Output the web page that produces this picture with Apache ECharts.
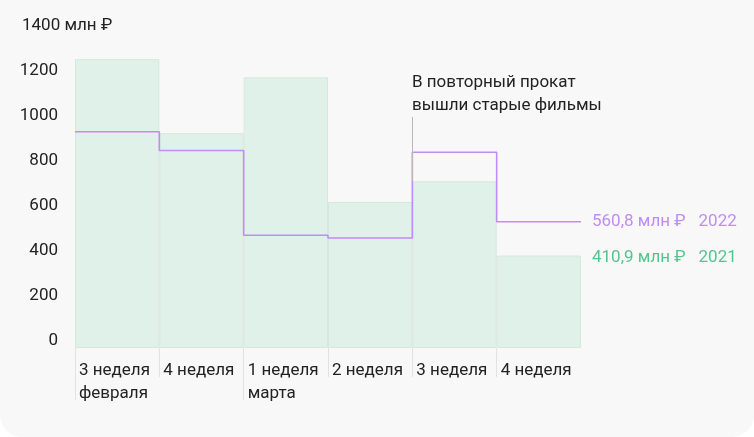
<!DOCTYPE html>
<html>
<head>
<meta charset="utf-8">
<title>Кинопрокат</title>
<script src="https://cdn.jsdelivr.net/npm/echarts@6/dist/echarts.min.js"></script>
<style>
  html, body { margin: 0; padding: 0; background: #ffffff; }
  #chart { width: 754px; height: 437px; background: #f8f8f8; border-radius: 0 0 22px 22px; }
</style>
</head>
<body>
<div id="chart"></div>
<script>
// недели
var weeks = ['3 неделя\nфевраля', '4 неделя', '1 неделя\nмарта', '2 неделя', '3 неделя', '4 неделя'];
// сборы, млн ₽
var y2021 = [1284, 955, 1203, 649, 741, 410.9];
var y2022 = [961, 878, 501, 489, 870, 560.8];
var yTicks = [0, 200, 400, 600, 800, 1000, 1200, 1400];
var noteWeek = 4;
var noteTop = 1027;
var noteText = 'В повторный прокат\nвышли старые фильмы';

var font = 'Roboto, "Noto Sans", sans-serif';
var purple = '#c08cf5';
var green = '#55c48f';

function rub(v) {
  return v.toFixed(1).replace('.', ',') + ' млн ₽';
}

// ступенчатая линия 2022 по границам недель
var stepData = [];
for (var i = 0; i < y2022.length; i++) {
  stepData.push([i, y2022[i]]);
  stepData.push([i + 1, y2022[i]]);
}

var barData = y2021.map(function (v, i) {
  if (i < y2021.length - 1) return v;
  return {
    value: v,
    label: {
      show: true,
      position: ['100%', 0],
      offset: [11, 2],
      align: 'left',
      verticalAlign: 'middle',
      formatter: '{a|' + rub(v) + '}{b|2021}',
      rich: {
        a: { color: green, fontSize: 17, fontFamily: font },
        b: { color: green, fontSize: 17, fontFamily: font, padding: [0, 0, 0, 13] }
      }
    }
  };
});

var chart = echarts.init(document.getElementById('chart'));
chart.setOption({
  animation: false,
  textStyle: { fontFamily: font },
  title: {
    text: yTicks[yTicks.length - 1] + ' млн ₽',
    left: 22, top: 17, padding: 0,
    textStyle: { fontSize: 17, fontWeight: 'normal', color: '#222', fontFamily: font }
  },
  graphic: [{
    type: 'text', left: 412, top: 71,
    style: { text: noteText, fontSize: 17, lineHeight: 23, fill: '#222', fontFamily: font }
  }],
  grid: { left: 75, right: 173, top: 33, bottom: 89 },
  xAxis: [
    { type: 'category', data: weeks, boundaryGap: true, show: false },
    { type: 'value', min: 0, max: weeks.length, show: false },
    {
      type: 'category', data: weeks.concat(['']), boundaryGap: false, position: 'bottom', offset: 0,
      axisLine: { show: false },
      axisTick: { show: true, length: 29, lineStyle: { color: '#e2e2e2' },
        interval: function (i) { return i < weeks.length; } },
      axisLabel: { interval: 0, align: 'left', verticalAlign: 'top', margin: 11,
        padding: [0, 0, 0, 4], fontSize: 17, lineHeight: 23, color: '#222' }
    },
    {
      type: 'category', data: weeks.concat(['']), boundaryGap: false, position: 'bottom', offset: 0,
      axisLine: { show: false },
      axisTick: { show: true, length: 52, lineStyle: { color: '#e2e2e2' },
        interval: function (i) { return i < weeks.length && weeks[i].indexOf('\n') >= 0; } },
      axisLabel: { show: false }
    }
  ],
  yAxis: {
    type: 'value', min: yTicks[0], max: yTicks[yTicks.length - 1], interval: 200,
    axisLine: { show: false }, axisTick: { show: false }, splitLine: { show: false },
    axisLabel: {
      margin: 17, verticalAlign: 'bottom',
      formatter: function (v) { return v === yTicks[yTicks.length - 1] ? '' : '{v|' + v + '}'; },
      rich: { v: { fontSize: 17, color: '#222', fontFamily: font, lineHeight: 15 } }
    }
  },
  series: [
    {
      name: '2021', type: 'bar', xAxisIndex: 0, data: barData,
      barCategoryGap: '0%',
      itemStyle: { color: '#e0f1e9', borderColor: '#d6e8de', borderWidth: 1 }
    },
    {
      name: '2022', type: 'line', xAxisIndex: 1, data: stepData,
      showSymbol: false, symbol: 'none',
      lineStyle: { color: purple, width: 1.6 },
      endLabel: {
        show: true, distance: 11,
        formatter: function () { return '{a|' + rub(y2022[y2022.length - 1]) + '}{b|2022}'; },
        rich: {
          a: { color: purple, fontSize: 17, fontFamily: font },
          b: { color: purple, fontSize: 17, fontFamily: font, padding: [0, 0, 0, 13] }
        }
      },
      markLine: {
        silent: true, symbol: 'none', label: { show: false },
        lineStyle: { color: '#b8b8b8', width: 1, type: 'solid' },
        data: [[{ coord: [noteWeek, y2021[noteWeek]] }, { coord: [noteWeek, noteTop] }]]
      }
    }
  ]
});
</script>
</body>
</html>
